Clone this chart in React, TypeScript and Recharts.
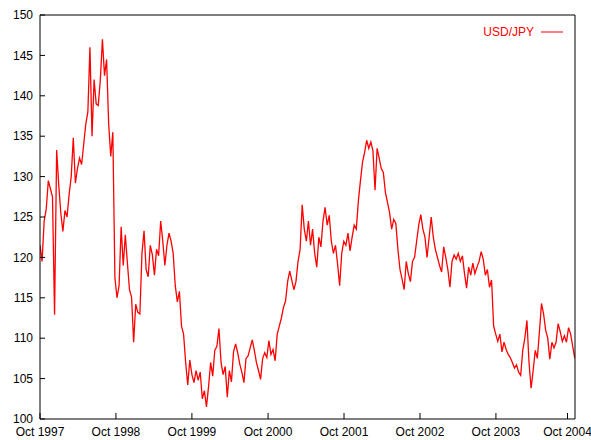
import { Legend, Line, LineChart, XAxis, YAxis } from 'recharts';

// USD/JPY, one reading every 10 days from 1 Oct 1997
const START_LABEL = 'Oct 1997';
const STEP_DAYS = 10;
const usdJpy = [
    121.5, 119.5, 124.5, 126.0, 129.5, 128.5, 127.5, 112.9, 133.3, 129.0,
    125.5, 123.2, 125.8, 125.0, 127.8, 130.0, 134.8, 129.2, 131.0, 132.3,
    131.5, 134.0, 136.5, 138.0, 146.0, 135.0, 142.0, 139.0, 138.8, 142.0,
    147.0, 142.5, 144.5, 136.5, 132.5, 135.5, 117.5, 115.0, 116.5, 123.8,
    119.0, 122.8, 119.3, 116.0, 115.1, 109.5, 114.2, 113.2, 113.0, 120.5,
    123.3, 118.5, 117.6, 121.5, 120.3, 117.8, 121.0, 120.2, 124.5, 122.0,
    119.0, 121.5, 123.0, 122.0, 120.5, 116.5, 114.5, 115.8, 111.5, 110.5,
    107.0, 104.2, 107.3, 105.5, 104.5, 106.0, 104.8, 105.8, 102.5, 103.5,
    101.5, 104.0, 107.0, 105.3, 108.5, 109.0, 111.2, 107.0, 105.5, 106.5,
    102.7, 106.0, 104.6, 108.3, 109.3, 108.2, 106.8, 105.8, 104.5, 107.5,
    107.8, 108.8, 109.8, 108.5, 107.0, 106.0, 104.9, 107.5, 108.2, 107.6,
    109.7, 108.0, 108.6, 107.2, 110.5, 111.5, 112.5, 113.8, 114.6, 117.0,
    118.3, 117.2, 116.0, 117.0, 119.5, 121.0, 126.5, 123.5, 122.0, 124.5,
    121.5, 123.5, 120.5, 118.8, 122.5, 121.3, 124.5, 126.2, 124.0, 125.2,
    122.0, 120.5, 121.5, 119.2, 116.5, 120.5, 122.0, 121.5, 123.0, 120.8,
    122.5, 124.0, 123.5, 127.0, 129.5, 131.8, 133.0, 134.5, 133.5, 134.3,
    133.2, 128.3, 133.5, 132.3, 131.0, 130.5, 128.0, 126.8, 125.5, 123.5,
    124.7, 124.2, 121.0, 118.5, 117.3, 116.0, 119.5, 118.0, 117.0, 119.5,
    120.0, 122.0, 124.0, 125.3, 123.5, 122.5, 120.0, 122.5, 125.0, 122.5,
    121.0, 120.0, 119.0, 118.2, 121.3, 120.0, 118.5, 116.3, 119.5, 120.3,
    119.8, 120.5, 119.5, 120.2, 118.0, 116.2, 118.8, 117.8, 119.3, 118.0,
    118.8, 119.5, 120.7, 119.8, 117.8, 118.5, 116.3, 117.2, 111.5, 110.5,
    109.6, 110.5, 108.3, 109.5, 108.6, 108.0, 107.6, 107.0, 106.3, 106.7,
    105.8, 105.4, 108.5, 110.0, 112.2, 107.0, 103.8, 106.0, 108.5, 107.5,
    110.8, 114.3, 113.0, 111.0, 110.0, 107.4, 109.5, 108.8, 109.5, 111.8,
    110.8, 109.6, 110.3, 109.5, 111.3, 110.5, 109.0, 107.5,
];

// days after 1 Oct 1997 where the x tics sit
const xTickDays = [0, 365, 730, 1096, 1461, 1826, 2191, 2535];
const xTickLabels = [START_LABEL, 'Oct 1998', 'Oct 1999', 'Oct 2000', 'Oct 2001', 'Oct 2002', 'Oct 2003', 'Oct 2004'];
const yTicks = [100, 105, 110, 115, 120, 125, 130, 135, 140, 145, 150];

const data = usdJpy.map((rate, i) => ({ day: i * STEP_DAYS, rate }));

const font = "'Liberation Sans', Arial, Helvetica, sans-serif";
const tickStyle = { fontSize: 12, fontFamily: font, fill: '#000' };

const renderLegend = (props: any) => (
    <div style={{ position: 'relative', height: 16 }}>
        {(props.payload || []).filter((p: any) => p.type !== 'none').map((p: any) => (
            <div key={p.value}>
                <span style={{ position: 'absolute', right: 57, top: 0, lineHeight: '16px', fontSize: 12, fontFamily: font, color: '#ff0000' }}>
                    {p.value}
                </span>
                <svg style={{ position: 'absolute', left: 541, top: 0 }} width={23} height={16}>
                    <line x1={0} x2={22} y1={8} y2={8} stroke="#ff0000" strokeWidth={1} />
                </svg>
            </div>
        ))}
    </div>
);

export default function App() {
    return (
        <div>
            <style>{'body{margin:0}'}</style>
            <LineChart width={591} height={440} data={data} margin={{ top: 14, right: 15, bottom: 0, left: 0 }}>
                <XAxis
                    type="number" dataKey="day" domain={[0, 2571]} ticks={xTickDays} interval={0}
                    tickFormatter={(v: number) => xTickLabels[xTickDays.indexOf(v)]}
                    tick={tickStyle} tickSize={-6} tickMargin={14} height={21}
                    stroke="#000" allowDataOverflow
                />
                <XAxis
                    xAxisId="top" orientation="top" type="number" dataKey="day" domain={[0, 2571]} ticks={xTickDays}
                    interval={0} tick={false} tickSize={-6} height={1} stroke="#000" allowDataOverflow
                />
                <YAxis
                    type="number" domain={[100, 150]} ticks={yTicks} interval={0}
                    tick={tickStyle} tickSize={-5} tickMargin={12} width={40} stroke="#000" allowDataOverflow
                />
                <YAxis
                    yAxisId="right" orientation="right" type="number" domain={[100, 150]} ticks={yTicks}
                    interval={0} tick={false} tickSize={-5} width={1} stroke="#000" allowDataOverflow
                />
                <Legend
                    layout="vertical" align="center" verticalAlign="middle" content={renderLegend}
                    wrapperStyle={{ top: 24, left: 0, width: 591 }}
                />
                {/* invisible twin so the mirrored top/right axes get drawn */}
                <Line
                    xAxisId="top" yAxisId="right" type="linear" dataKey="rate" stroke="none" strokeWidth={0}
                    legendType="none" dot={false} activeDot={false} isAnimationActive={false}
                />
                <Line
                    type="linear" dataKey="rate" name="USD/JPY" stroke="#ff0000" strokeWidth={1.3}
                    dot={false} activeDot={false} isAnimationActive={false}
                />
            </LineChart>
        </div>
    );
}
